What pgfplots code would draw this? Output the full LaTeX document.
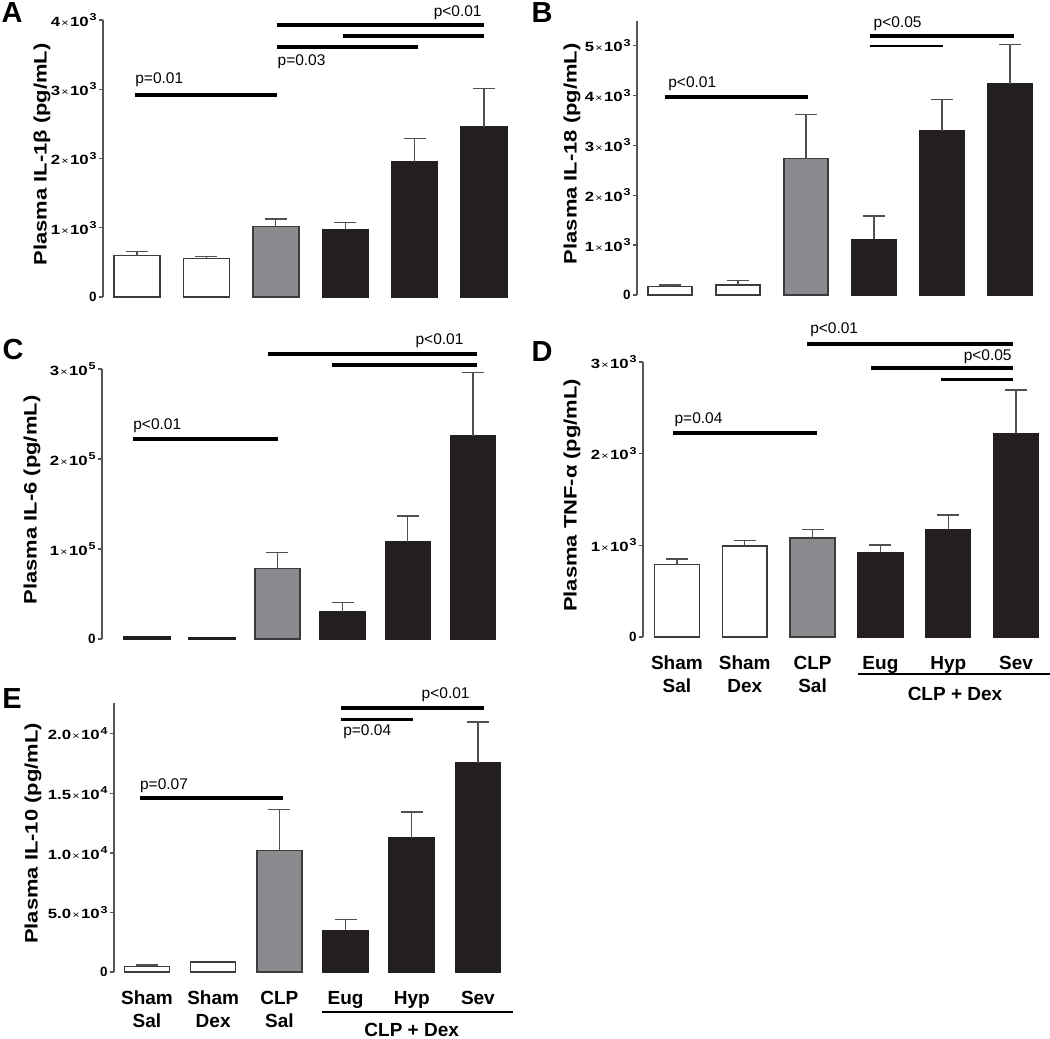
\documentclass[border=0pt]{standalone}
\usepackage{fontspec}
\setmainfont{Liberation Sans}
\usepackage{graphicx}
\usepackage{pgfplots}
\pgfplotsset{compat=1.18}
\definecolor{grayfill}{RGB}{138,139,142}
\definecolor{blackfill}{RGB}{35,31,32}
\definecolor{outl}{RGB}{60,60,60}
\definecolor{axgray}{RGB}{85,85,85}
\definecolor{errc}{RGB}{80,80,80}
\newcommand{\tl}[2]{\scalebox{1.25}[1]{\textbf{#1}{\fontsize{5}{5}\selectfont\hspace{0.5pt}×\hspace{0.5pt}}\textbf{10}\raisebox{0.8ex}{\fontsize{5}{5}\selectfont\textbf{\hspace{0.4pt}#2}}}}
\newcommand{\yl}[1]{\scalebox{1.22}[1]{#1}}
\newcommand{\pfont}{\fontsize{7.75}{8}\selectfont}
\pgfplotsset{
  panel/.style={
    scale only axis, anchor=south west, ymin=0, xmax=6.5,
    scaled y ticks=false,
    axis y line*=left, axis x line*=bottom,
    x axis line style={draw=none,-},
    y axis line style={-, draw=axgray, line width=0.7pt},
    xtick style={draw=none},
    ytick style={draw=axgray, line width=0.7pt},
    tick align=outside, major tick length=2pt,
    clip=false,
    yticklabel style={font=\fontsize{6.7}{7}\selectfont, inner sep=1pt},
    xticklabel style={font=\bfseries\fontsize{9.5}{11.5}\selectfont, align=center, anchor=north, yshift=-4pt},
  },
  ylab/.style={every axis y label/.style={at={(rel axis cs:0,0.515)}, rotate=90, anchor=center, yshift=#1, font=\bfseries\fontsize{9}{10}\selectfont}},
  wbar/.style={ybar, bar shift=0pt, fill=white, draw=outl, line width=0.75pt},
  gbar/.style={ybar, bar shift=0pt, fill=grayfill, draw=outl, line width=0.75pt},
  kbar/.style={ybar, bar shift=0pt, fill=blackfill, draw=blackfill, line width=0.75pt},
  eb/.style={error bars/.cd, y dir=plus, y explicit,
    error bar style={line width=0.6pt, draw=errc},
    error mark options={rotate=90, line width=0.6pt, mark size=5.5pt, draw=errc}},
}
\begin{document}
\begin{tikzpicture}
\useasboundingbox (0,0) rectangle (525pt,-519.5pt);
% ---------------- A ----------------
\begin{axis}[panel, at={(51.5pt,-148.5pt)}, width=207.9pt, height=138.5pt,
  xmin=0.51, ymax=4000, bar width=0.66, xtick=\empty,
  ytick={0,1000,2000,3000,4000},
  yticklabels={\textbf{0},\tl{1}{3},\tl{2}{3},\tl{3}{3},\tl{4}{3}},
  ylab=30.5pt, ylabel={\yl{Plasma IL-1β (pg/mL)}}]
\addplot[wbar, eb] coordinates {(1,597) +- (0,58) (2,558) +- (0,24)};
\addplot[gbar, eb] coordinates {(3,1016) +- (0,110)};
\addplot[kbar, eb] coordinates {(4,968) +- (0,110) (5,1954) +- (0,332) (6,2460) +- (0,553)};
\draw[line width=2pt] (axis cs:0.97,2917) -- (axis cs:3.02,2917);
\node[font=\pfont, anchor=west, inner sep=0pt] at (axis cs:0.97,3134) {p=0.01};
\draw[line width=2pt] (axis cs:3.02,3928) -- (axis cs:6.0,3928);
\draw[line width=2pt] (axis cs:3.97,3774) -- (axis cs:6.0,3774);
\draw[line width=2pt] (axis cs:3.02,3610) -- (axis cs:5.05,3610);
\node[font=\pfont, anchor=east, inner sep=0pt] at (axis cs:5.97,4106) {p<0.01};
\node[font=\pfont, anchor=west, inner sep=0pt] at (axis cs:3.02,3398) {p=0.03};
\end{axis}
% ---------------- B ----------------
\begin{axis}[panel, at={(318.5pt,-147.5pt)}, width=203.5pt, height=137.2pt,
  xmin=0.515, ymax=5500, bar width=0.65, xtick=\empty,
  ytick={0,1000,2000,3000,4000,5000},
  yticklabels={\textbf{0},\tl{1}{3},\tl{2}{3},\tl{3}{3},\tl{4}{3},\tl{5}{3}},
  ylab=32.5pt, ylabel={\yl{Plasma IL-18 (pg/mL)}}]
\addplot[wbar, eb] coordinates {(1,167) +- (0,33) (2,200) +- (0,87)};
\addplot[gbar, eb] coordinates {(3,2734) +- (0,882)};
\addplot[kbar, eb] coordinates {(4,1116) +- (0,468) (5,3289) +- (0,635) (6,4238) +- (0,789)};
\draw[line width=2pt] (axis cs:0.93,3970) -- (axis cs:3.03,3970);
\node[font=\pfont, anchor=west, inner sep=0pt] at (axis cs:0.97,4245) {p<0.01};
\draw[line width=2pt] (axis cs:3.94,5200) -- (axis cs:6.06,5200);
\draw[line width=1.3pt] (axis cs:3.94,4993) -- (axis cs:5.01,4993);
\node[font=\pfont, anchor=west, inner sep=0pt] at (axis cs:3.99,5448) {p<0.05};
\end{axis}
% ---------------- C ----------------
\begin{axis}[panel, at={(51pt,-319.5pt)}, width=201.8pt, height=135pt,
  xmin=0.31, ymax=300000, bar width=0.69, xtick=\empty,
  ytick={0,100000,200000,300000},
  yticklabels={\textbf{0},\tl{1}{5},\tl{2}{5},\tl{3}{5}},
  ylab=35pt, ylabel={\yl{Plasma IL-6 (pg/mL)}}]
\addplot[wbar, draw=blackfill, line width=1.2pt] coordinates {(1,1800) (2,800)};
\addplot[gbar, eb] coordinates {(3,78500) +- (0,17800)};
\addplot[kbar, eb] coordinates {(4,30400) +- (0,10000) (5,107800) +- (0,28900) (6,225900) +- (0,70000)};
\draw[line width=2pt] (axis cs:0.785,222600) -- (axis cs:3.01,222600);
\node[font=\pfont, anchor=west, inner sep=0pt] at (axis cs:0.785,236700) {p<0.01};
\draw[line width=2pt] (axis cs:2.86,316700) -- (axis cs:6.06,316700);
\draw[line width=2pt] (axis cs:3.84,304400) -- (axis cs:6.06,304400);
\node[font=\pfont, anchor=east, inner sep=0pt] at (axis cs:5.86,331400) {p<0.01};
\end{axis}
% ---------------- D ----------------
\begin{axis}[panel, at={(321.5pt,-318.5pt)}, width=203.5pt, height=137.5pt,
  xmin=0.5, ymax=3000, bar width=0.66,
  xtick={1,2,3,4,5,6},
  xticklabels={Sham\\Sal,Sham\\Dex,CLP\\Sal,Eug,Hyp,Sev},
  ytick={0,1000,2000,3000},
  yticklabels={\textbf{0},\tl{1}{3},\tl{2}{3},\tl{3}{3}},
  ylab=35.5pt, ylabel={\yl{Plasma TNF-α (pg/mL)}}]
\addplot[wbar, eb] coordinates {(1,789) +- (0,62) (2,993) +- (0,62)};
\addplot[gbar, eb] coordinates {(3,1080) +- (0,95)};
\addplot[kbar, eb] coordinates {(4,924) +- (0,80) (5,1175) +- (0,156) (6,2215) +- (0,480)};
\draw[line width=2pt] (axis cs:0.94,2225) -- (axis cs:3.06,2225);
\node[font=\pfont, anchor=west, inner sep=0pt] at (axis cs:0.96,2367) {p=0.04};
\draw[line width=2pt] (axis cs:2.92,3193) -- (axis cs:5.96,3193);
\node[font=\pfont, anchor=west, inner sep=0pt] at (axis cs:2.96,3349) {p<0.01};
\draw[line width=2pt] (axis cs:3.86,2938) -- (axis cs:5.96,2938);
\draw[line width=1.3pt] (axis cs:4.89,2811) -- (axis cs:5.96,2811);
\node[font=\pfont, anchor=east, inner sep=0pt] at (axis cs:5.94,3058) {p<0.05};
\draw[line width=1.3pt] ([yshift=-18.5pt]axis cs:3.67,0) -- ([yshift=-18.5pt]axis cs:6.5,0);
\node[font=\bfseries\fontsize{9.5}{11.5}\selectfont] at ([yshift=-28.5pt]axis cs:5.1,0) {CLP + Dex};
\end{axis}
% ---------------- E ----------------
\begin{axis}[panel, at={(57pt,-486pt)}, width=198.5pt, height=134.5pt,
  xmin=0.5015, ymax=22567, bar width=0.68,
  xtick={1,2,3,4,5,6},
  xticklabels={Sham\\Sal,Sham\\Dex,CLP\\Sal,Eug,Hyp,Sev},
  ytick={0,5000,10000,15000,20000},
  yticklabels={\textbf{0},\tl{5.0}{3},\tl{1.0}{4},\tl{1.5}{4},\tl{2.0}{4}},
  ylab=40.5pt, ylabel={\yl{Plasma IL-10 (pg/mL)}}]
\addplot[wbar, eb] coordinates {(1,474) +- (0,112)};
\addplot[wbar] coordinates {(2,837)};
\addplot[gbar, eb] coordinates {(3,10209) +- (0,3403)};
\addplot[kbar, eb] coordinates {(4,3487) +- (0,948) (5,11241) +- (0,2176) (6,17573) +- (0,3403)};
\draw[line width=2pt] (axis cs:0.89,14561) -- (axis cs:3.05,14561);
\node[font=\pfont, anchor=west, inner sep=0pt] at (axis cs:0.89,15649) {p=0.07};
\draw[line width=2pt] (axis cs:3.93,22118) -- (axis cs:6.09,22118);
\draw[line width=1.3pt] (axis cs:3.93,21172) -- (axis cs:5.02,21172);
\node[font=\pfont, anchor=east, inner sep=0pt] at (axis cs:5.88,23238) {p<0.01};
\node[font=\pfont, anchor=west, inner sep=0pt] at (axis cs:3.96,20193) {p=0.04};
\draw[line width=1.3pt] ([yshift=-20pt]axis cs:3.64,0) -- ([yshift=-20pt]axis cs:6.53,0);
\node[font=\bfseries\fontsize{9.5}{11.5}\selectfont] at ([yshift=-28.8pt]axis cs:5.0,0) {CLP + Dex};
\end{axis}
% panel letters
\node[font=\bfseries\fontsize{14.5}{14.5}\selectfont] at (6pt,-6.5pt) {A};
\node[font=\bfseries\fontsize{14.5}{14.5}\selectfont] at (271pt,-6.5pt) {B};
\node[font=\bfseries\fontsize{14.5}{14.5}\selectfont] at (6.5pt,-175pt) {C};
\node[font=\bfseries\fontsize{14.5}{14.5}\selectfont] at (271pt,-176pt) {D};
\node[font=\bfseries\fontsize{14.5}{14.5}\selectfont] at (6pt,-349.5pt) {E};
\end{tikzpicture}
\end{document}
